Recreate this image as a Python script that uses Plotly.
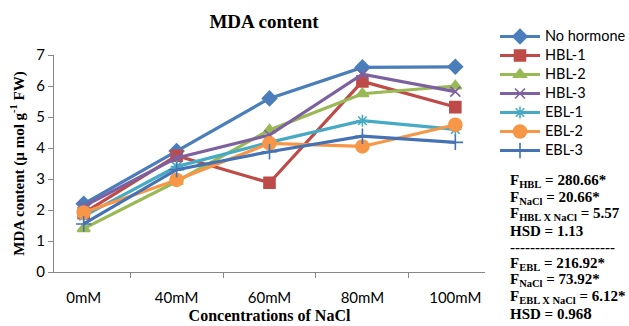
import plotly.graph_objects as go

# NaCl treatment levels (x categories)
concentrations = ["0mM", "40mM", "60mM", "80mM", "100mM"]

# MDA content (µ mol g-1 FW) per treatment
no_hormone = [2.2, 3.9, 5.6, 6.6, 6.62]
hbl_1 = [1.9, 3.75, 2.88, 6.15, 5.32]
hbl_2 = [1.4, 2.92, 4.58, 5.75, 6.0]
hbl_3 = [2.12, 3.68, 4.42, 6.38, 5.82]
ebl_1 = [1.8, 3.4, 4.18, 4.88, 4.6]
ebl_2 = [1.92, 2.97, 4.15, 4.05, 4.75]
ebl_3 = [1.55, 3.3, 3.88, 4.38, 4.18]

series_names = ["No hormone", "HBL-1", "HBL-2", "HBL-3", "EBL-1", "EBL-2", "EBL-3"]
series_values = [no_hormone, hbl_1, hbl_2, hbl_3, ebl_1, ebl_2, ebl_3]

colors = ["#4A7EBB", "#BE4B48", "#98B954", "#7D60A0", "#46AAC5", "#F79646", "#4472B5"]
symbols = ["diamond", "square", "triangle-up", "x-thin-open", "asterisk-open",
           "circle", "cross-thin-open"]
sizes = [11, 11, 11, 10, 10, 13, 11]

fig = go.Figure()
for name, vals, col, sym, sz in zip(series_names, series_values, colors, symbols, sizes):
    fig.add_trace(go.Scatter(
        x=concentrations, y=vals, name=f"<span style='font-size:14.5px'>{name}</span>",
        mode="lines+markers",
        line=dict(color=col, width=3.2),
        marker=dict(symbol=sym, size=sz, color=col,
                    line=dict(color=col, width=1.6)),
    ))

serif = "Liberation Serif, Times New Roman, serif"
sans = "Lato, Open Sans, sans-serif"

# plot area in pixels
L, R, T, B = 54, 485, 55, 272
W, H = R - L, B - T

stats_lines = [
    "F<sub>HBL</sub> = 280.66*",
    "F<sub>NaCl</sub> = 20.66*",
    "F<sub>HBL X NaCl</sub> = 5.57",
    "HSD = 1.13",
    "---------------------",
    "F<sub>EBL</sub> = 216.92*",
    "F<sub>NaCl</sub> = 73.92*",
    "F<sub>EBL X NaCl</sub> = 6.12*",
    "HSD = 0.96<span style='font-size:17px'>8</span>",
]
start_y = 181
step = 16.5
for i, txt in enumerate(stats_lines):
    ypix = start_y + i * step
    fig.add_annotation(
        text="<b>" + txt + "</b>", xref="paper", yref="paper",
        x=(508 - L) / W, y=(B - ypix) / H,
        xanchor="left", yanchor="middle", showarrow=False,
        font=dict(family=serif, size=15, color="#000000"),
    )

fig.update_layout(
    width=629, height=326,
    margin=dict(l=L, r=629 - R, t=T, b=326 - B, autoexpand=False),
    paper_bgcolor="white", plot_bgcolor="white",
    title=dict(text="<b>MDA content</b>", x=264 / 629, xanchor="center",
               y=1 - 21 / 326, yanchor="middle",
               font=dict(family=serif, size=19, color="#000000")),
    showlegend=True,
    legend=dict(x=(495 - L) / W, y=(B - 22) / H, xanchor="left", yanchor="top",
                font=dict(family=sans, size=12, color="#000000"),
                bgcolor="rgba(0,0,0,0)", tracegroupgap=0, itemwidth=40),
    xaxis=dict(type="category", tickson="boundaries", ticks="outside", ticklen=5,
               tickcolor="#868686", showline=True, linecolor="#868686", linewidth=1,
               showgrid=False, ticklabelstandoff=12,
               tickfont=dict(family=sans, size=15, color="#000000"),
               title=dict(text="<b>Concentrations of NaCl</b>", standoff=4,
                          font=dict(family=serif, size=16, color="#000000"))),
    yaxis=dict(range=[0, 7], dtick=1, ticks="outside", ticklen=5,
               tickcolor="#868686", showline=True, linecolor="#868686", linewidth=1,
               showgrid=False, zeroline=False,
               tickfont=dict(family=sans, size=15, color="#000000"),
               title=dict(text="<b>MDA content (µ mol g<sup>-1</sup> FW)</b>", standoff=8,
                          font=dict(family=serif, size=15, color="#000000"))),
)

fig.write_html("out.html")
